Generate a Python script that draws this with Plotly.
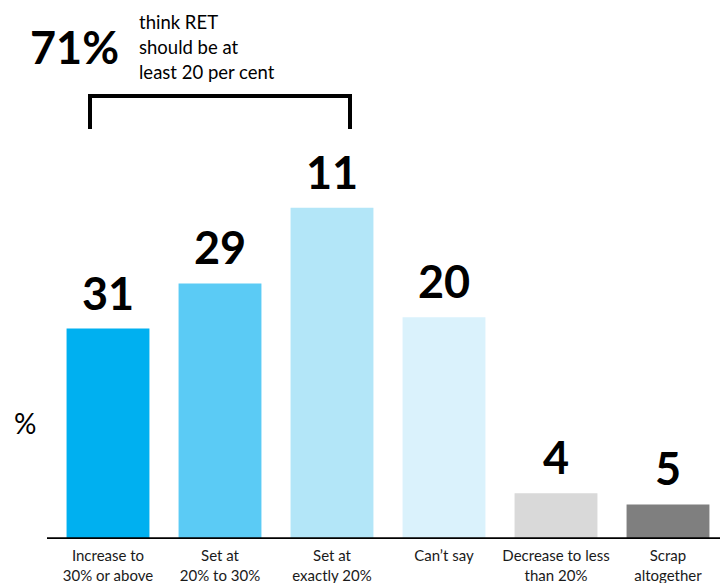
import plotly.graph_objects as go

categories = ["Increase to<br>30% or above", "Set at<br>20% to 30%", "Set at<br>exactly 20%",
              "Can\u2019t say", "Decrease to less<br>than 20%", "Scrap<br>altogether"]
bar_heights = [31.7, 38.5, 49.9, 33.4, 6.9, 5.2]
label_values = [31, 29, 11, 20, 4, 5]
colors = ["#00B0F0", "#5BCBF5", "#B3E6F8", "#DAF2FC", "#D9D9D9", "#7F7F7F"]

OFF = 8  # page body margin
W, H = 728 - OFF, 583 - OFF
BOTTOM = 44
FONT = "Lato"

fig = go.Figure()
fig.add_trace(go.Bar(
    x=list(range(len(categories))), y=bar_heights,
    marker=dict(color=colors, line=dict(width=0)),
    width=0.74, hoverinfo="skip",
))

for i, (h, v) in enumerate(zip(bar_heights, label_values)):
    fig.add_annotation(x=i, y=h, text=f"<b>{v}</b>", showarrow=False,
                       xref="x", yref="y", yanchor="middle", yshift=36,
                       font=dict(family=FONT, size=45, color="#000000"))

def px(x):
    return (x - OFF) / W

def py(y):
    return 1 - (y - OFF) / (H - BOTTOM)

# headline
fig.add_annotation(x=px(74), y=py(47), xref="paper", yref="paper", text="<b>71%</b>",
                   showarrow=False, xanchor="center", yanchor="middle",
                   font=dict(family=FONT, size=45, color="#000000"))
for j, line in enumerate(["think RET", "should be at", "least 20 per cent"]):
    fig.add_annotation(x=px(137), y=py(22 + 25 * j), xref="paper", yref="paper", text=line,
                       showarrow=False, xanchor="left", yanchor="middle",
                       font=dict(family=FONT, size=18.5, color="#000000"))

# "%" axis label
fig.add_annotation(x=px(25), y=py(423), xref="paper", yref="paper", text="%",
                   showarrow=False, xanchor="center", yanchor="middle",
                   font=dict(family=FONT, size=28, color="#000000"))

# bracket
fig.add_shape(type="path", xref="paper", yref="paper",
              path=f"M {px(90)},{py(129)} L {px(90)},{py(96)} L {px(350)},{py(96)} L {px(350)},{py(129)}",
              line=dict(color="#000000", width=4))

# baseline
fig.add_shape(type="line", xref="paper", yref="y", x0=px(47), x1=1, y0=0, y1=0,
              line=dict(color="#000000", width=3.5))

fig.update_layout(
    width=W, height=H,
    margin=dict(l=0, r=0, t=0, b=BOTTOM),
    paper_bgcolor="white", plot_bgcolor="white",
    showlegend=False,
    xaxis=dict(domain=[(52 - OFF) / W, (724 - OFF) / W], range=[-0.5, 5.5],
               tickmode="array", tickvals=list(range(len(categories))), ticktext=categories,
               showgrid=False, zeroline=False, showline=False, ticks="",
               ticklabelstandoff=6,
               tickfont=dict(family=FONT, size=15, color="#1a1a1a"), automargin=False,
               fixedrange=True),
    yaxis=dict(range=[0, 80], visible=False, fixedrange=True),
)

fig.write_html("out.html")
